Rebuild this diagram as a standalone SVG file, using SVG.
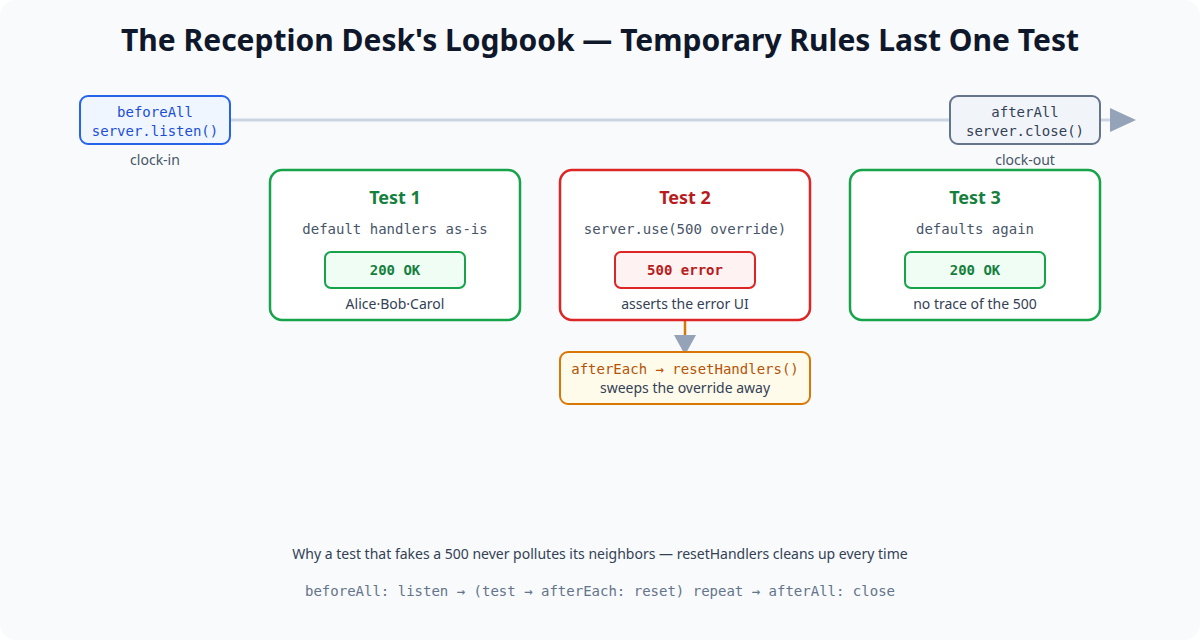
<svg xmlns="http://www.w3.org/2000/svg" width="1200" height="640" viewBox="0 0 1200 640">
<defs>
<style>
.sans{font-family:"Noto Sans","Liberation Sans",sans-serif}
.mono{font-family:"DejaVu Sans Mono","Liberation Mono",monospace;font-size:14px}
.title{font-size:30px;font-weight:700;fill:#0f172a}
.cap{font-size:14px;fill:#475569}
.test{fill:#ffffff;stroke-width:2.5}
.th{font-size:18px;font-weight:700}
.sub{fill:#475569}
.body{font-size:14px;fill:#334155}
</style>
</defs>
<rect x="0" y="0" width="1200" height="640" rx="16" fill="#f8fafc"/>
<text class="sans title" x="600" y="51" text-anchor="middle">The Reception Desk's Logbook — Temporary Rules Last One Test</text>

<g id="connectors">
<line x1="230" y1="120" x2="1112" y2="120" stroke="#cbd5e1" stroke-width="3"/>
<polygon points="1110,108 1136,120 1110,132" fill="#94a3b8"/>
<line x1="685" y1="320" x2="685" y2="338" stroke="#d97706" stroke-width="2.5"/>
<polygon points="674,335 696,335 685,355" fill="#94a3b8"/>
</g>

<g id="beforeAll">
<rect x="80" y="96" width="150" height="48" rx="8" fill="#eff6ff" stroke="#2563eb" stroke-width="2"/>
<text class="mono" x="155" y="117" text-anchor="middle" fill="#1d4ed8">beforeAll</text>
<text class="mono" x="155" y="136" text-anchor="middle" fill="#1d4ed8">server.listen()</text>
<text class="sans cap" x="155" y="165" text-anchor="middle">clock-in</text>
</g>

<g id="afterAll">
<rect x="950" y="96" width="150" height="48" rx="8" fill="#f1f5f9" stroke="#64748b" stroke-width="2"/>
<text class="mono" x="1025" y="117" text-anchor="middle" fill="#334155">afterAll</text>
<text class="mono" x="1025" y="136" text-anchor="middle" fill="#334155">server.close()</text>
<text class="sans cap" x="1025" y="165" text-anchor="middle">clock-out</text>
</g>

<g id="test1">
<rect class="test" x="270" y="170" width="250" height="150" rx="12" stroke="#16a34a"/>
<text class="sans th" x="395" y="204" text-anchor="middle" fill="#15803d">Test 1</text>
<text class="mono sub" x="395" y="234" text-anchor="middle">default handlers as-is</text>
<rect x="325" y="252" width="140" height="36" rx="6" fill="#f0fdf4" stroke="#16a34a" stroke-width="2"/>
<text class="mono" x="395" y="275" text-anchor="middle" font-weight="700" font-size="13" fill="#15803d">200 OK</text>
<text class="sans body" x="395" y="309" text-anchor="middle">Alice·Bob·Carol</text>
</g>

<g id="test2">
<rect class="test" x="560" y="170" width="250" height="150" rx="12" stroke="#dc2626"/>
<text class="sans th" x="685" y="204" text-anchor="middle" fill="#b91c1c">Test 2</text>
<text class="mono sub" x="685" y="234" text-anchor="middle">server.use(500 override)</text>
<rect x="615" y="252" width="140" height="36" rx="6" fill="#fef2f2" stroke="#dc2626" stroke-width="2"/>
<text class="mono" x="685" y="275" text-anchor="middle" font-weight="700" font-size="13" fill="#b91c1c">500 error</text>
<text class="sans body" x="685" y="309" text-anchor="middle">asserts the error UI</text>
</g>

<g id="test3">
<rect class="test" x="850" y="170" width="250" height="150" rx="12" stroke="#16a34a"/>
<text class="sans th" x="975" y="204" text-anchor="middle" fill="#15803d">Test 3</text>
<text class="mono sub" x="975" y="234" text-anchor="middle">defaults again</text>
<rect x="905" y="252" width="140" height="36" rx="6" fill="#f0fdf4" stroke="#16a34a" stroke-width="2"/>
<text class="mono" x="975" y="275" text-anchor="middle" font-weight="700" font-size="13" fill="#15803d">200 OK</text>
<text class="sans body" x="975" y="309" text-anchor="middle">no trace of the 500</text>
</g>

<g id="afterEach">
<rect x="560" y="352" width="250" height="52" rx="8" fill="#fffbeb" stroke="#d97706" stroke-width="2"/>
<text class="mono" x="685" y="374" text-anchor="middle" fill="#b45309">afterEach → resetHandlers()</text>
<text class="sans body" x="685" y="393" text-anchor="middle">sweeps the override away</text>
</g>

<text class="sans body" x="600" y="559" text-anchor="middle">Why a test that fakes a 500 never pollutes its neighbors — resetHandlers cleans up every time</text>
<text class="mono" x="600" y="596" text-anchor="middle" fill="#64748b">beforeAll: listen → (test → afterEach: reset) repeat → afterAll: close</text>
</svg>
